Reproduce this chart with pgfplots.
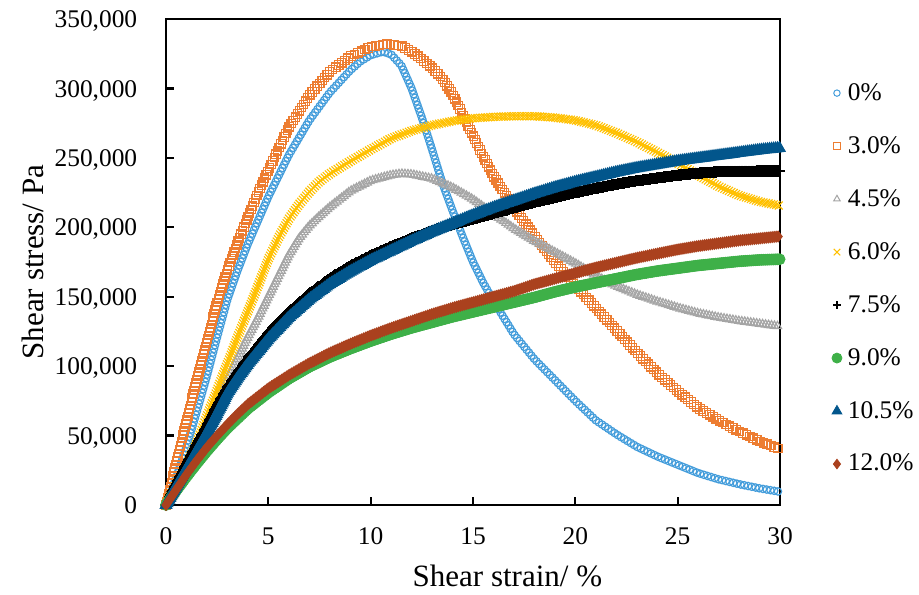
\documentclass[border=0pt]{standalone}
\usepackage{pgfplots}
\pgfplotsset{compat=1.18}
\usepackage{fontspec}
\setmainfont{Liberation Serif}
\usetikzlibrary{decorations.markings,plotmarks}
\definecolor{cA}{RGB}{68,157,219}
\definecolor{cB}{RGB}{237,125,49}
\definecolor{cC}{RGB}{165,165,165}
\definecolor{cD}{RGB}{255,192,0}
\definecolor{cE}{RGB}{0,0,0}
\definecolor{cF}{RGB}{62,176,72}
\definecolor{cG}{RGB}{2,86,140}
\definecolor{cH}{RGB}{170,65,30}
\pgfplotsset{
  mk/.style n args={5}{draw=none, sharp plot, forget plot,
    decoration={markings, mark=between positions 0 and 1 step #2 with {\pgftransformresetnontranslations\pgfsetplotmarksize{#3}\pgfsetstrokecolor{#4}\pgfsetfillcolor{#4}\pgfsetlinewidth{#5}\pgfuseplotmark{#1}}},
    postaction={decorate}},
}
\begin{document}
\begin{tikzpicture}
\path[use as bounding box] (-83pt,-44.5pt) rectangle (376.5pt,252.5pt);
\begin{axis}[
  at={(0,0)}, anchor=south west,
  scale only axis, width=307pt, height=243pt,
  xmin=0, xmax=30, ymin=0, ymax=350000,
  xtick={0,5,10,15,20,25,30}, ytick={0,50000,100000,150000,200000,250000,300000,350000},
  scaled y ticks=false,
  /pgf/number format/fixed,
  /pgf/number format/1000 sep={,},
  /pgf/number format/assume math mode=true,
  tick align=inside, tick pos=left, major tick length=4pt,
  axis line style={line width=1.15pt},
  every tick/.style={black, line width=1.1pt},
  ticklabel style={font=\fontsize{12.7}{15}\selectfont},
  xticklabel style={anchor=north, inner sep=0pt, yshift=-11pt},
  yticklabel style={anchor=base east, inner sep=0pt, xshift=-14.2pt, yshift=-4.3pt},
  xlabel={Shear strain/ \%}, ylabel={Shear stress/ Pa},
  every axis x label/.style={at={(axis description cs:0.556,0)}, anchor=north, inner sep=0pt, yshift=-30pt, font=\fontsize{15.5}{18}\selectfont},
  every axis y label/.style={at={([xshift=-61pt]axis description cs:0,0.5)}, rotate=90, anchor=base, inner sep=0pt, font=\fontsize{15.5}{18}\selectfont},
  clip=false,
  legend style={at={(1.0830,0.868)}, anchor=north west, draw=none, fill=none, inner sep=0pt, outer sep=0pt, font=\fontsize{12.7}{15}\selectfont, row sep=16.55pt, column sep=2.5pt, nodes={inner sep=0pt}},
  legend cell align=left,
  legend image code/.code={\path[draw=none,fill=none] (0pt,-3pt) rectangle (6pt,3pt); \draw[#1] plot coordinates {(3pt,0pt)};},
]
% 0%
\addplot[mk={o}{1.9pt}{1.85pt}{cA}{0.6pt}] coordinates {(0,0)(0.5,20000)(1,42000)(1.5,67000)(2,93000)(2.5,121000)(3,148000)(3.5,169000)(4,188000)(5,222000)(6,252000)(7,277000)(8,297000)(9,313000)(9.5,319500)(10,324000)(10.6,326500)(11,324500)(11.5,316500)(12,300000)(12.5,279000)(13,256000)(13.5,232000)(14,212000)(14.5,193000)(15,175000)(15.5,160000)(16,147000)(17,123000)(18,105000)(19,90000)(20,75000)(21,61000)(22,51000)(23,42000)(24,35000)(25,29000)(26,23000)(27,18500)(28,15000)(29,12000)(30,9500)};
% 3.0%
\addplot[mk={square}{1.9pt}{2.1pt}{cB}{0.6pt}] coordinates {(0,0)(0.5,30000)(1,60000)(1.5,90000)(2,118000)(2.5,146000)(3,169000)(3.5,189000)(4,207000)(4.5,225000)(5,241000)(6,272000)(7,295000)(8,312000)(9,323000)(10,330000)(10.8,332000)(11.5,330500)(12,326500)(12.5,321000)(13,315000)(13.5,307000)(14,296000)(14.5,281000)(15,266000)(15.5,251000)(16,237000)(17,214000)(18,194000)(19,175000)(20,158000)(21,142000)(22,126000)(23,110000)(24,95000)(25,82000)(26,70000)(27,61000)(28,53000)(29,46000)(30,40000)};
% 4.5%
\addplot[mk={triangle}{1.5pt}{2.4pt}{cC}{0.6pt}] coordinates {(0,0)(0.5,14000)(1,29000)(1.5,44000)(2,60000)(2.5,75000)(3,91000)(3.5,106000)(4,121000)(4.5,135000)(5,150000)(5.5,165000)(6,180000)(6.5,192000)(7,201000)(7.5,208000)(8,214500)(9,226000)(10,233500)(11,237500)(11.5,238500)(12,238000)(13,235000)(14,228500)(15,220000)(16,209500)(17,199000)(18,190000)(19,182000)(20,174000)(21,165000)(22,157500)(23,151500)(24,146500)(25,142000)(26,138000)(27,135000)(28,132500)(29,130500)(30,128500)};
% 6.0%
\addplot[mk={x}{1.3pt}{2.8pt}{cD}{0.55pt}] coordinates {(0,0)(0.5,15000)(1,29000)(1.5,45000)(2,64000)(2.5,83000)(3,102000)(3.5,121000)(4,139500)(4.5,158000)(5,177000)(5.5,192500)(6,206000)(6.5,216500)(7,225500)(7.5,233000)(8,238500)(9,247500)(10,256000)(11,264000)(12,269500)(13,273500)(14,276500)(15,278500)(16,279500)(17,280000)(18,280000)(19,279000)(20,277000)(21,273500)(22,268000)(23,261500)(24,254000)(25,246000)(26,237500)(27,229500)(28,223000)(29,218500)(30,215500)};
% 7.5%
\addplot[mk={+}{0.7pt}{2.8pt}{cE}{1.2pt}] coordinates {(0,0)(0.5,14500)(1,29000)(1.5,43000)(2,56500)(2.5,71000)(3,84000)(3.5,95000)(4,105000)(5,123500)(6,139000)(7,152000)(8,163000)(9,172000)(10,179500)(11,186000)(12,192000)(13,197500)(14,202000)(15,206000)(16,210000)(17,214000)(18,218000)(19,221500)(20,225000)(21,228000)(22,231000)(23,233500)(24,235500)(25,237500)(26,239000)(27,240000)(28,240300)(29,240500)(30,240600)};
% 9.0%
\addplot[mk={*}{1.0pt}{2.7pt}{cF}{0.5pt}] coordinates {(0,0)(0.5,10500)(1,20500)(1.5,30000)(2,39000)(2.5,47500)(3,55500)(3.5,62500)(4,69500)(5,81000)(6,91000)(7,99500)(8,106500)(9,112500)(10,118000)(11,123000)(12,127500)(13,131500)(14,135500)(15,139000)(16,142500)(17,146000)(18,149500)(19,153500)(20,157000)(21,160000)(22,163000)(23,166000)(24,168500)(25,170500)(26,172500)(27,174000)(28,175500)(29,176500)(30,177000)};
% 10.5%
\addplot[mk={triangle*}{1.0pt}{3.3pt}{cG}{0.5pt}] coordinates {(0,0)(0.5,13500)(1,26000)(1.5,39000)(2,52000)(2.5,66000)(3,80500)(3.5,91500)(4,101500)(5,119500)(6,135000)(7,148000)(8,159000)(9,168000)(10,176000)(11,183000)(12,190000)(13,196500)(14,202500)(15,208500)(16,214000)(17,219000)(18,224000)(19,228500)(20,232500)(21,236000)(22,239500)(23,242500)(24,245000)(25,247500)(26,249500)(27,251500)(28,253500)(29,255500)(30,257000)};
% 12.0%
\addplot[mk={diamond*}{1.0pt}{2.7pt}{cH}{0.5pt}] coordinates {(0,0)(0.5,11000)(1,22000)(1.5,32000)(2,41500)(2.5,50000)(3,58000)(3.5,65500)(4,72500)(5,84000)(6,93500)(7,102000)(8,109500)(9,116000)(10,122000)(11,127500)(12,132500)(13,137500)(14,142000)(15,146000)(16,150000)(17,154000)(18,159000)(19,163000)(20,167000)(21,171000)(22,174500)(23,178000)(24,181000)(25,184000)(26,186500)(27,188500)(28,190500)(29,192000)(30,193500)};
% legend
\addlegendimage{mark=o, mark size=1.6pt, color=cA, mark options={line width=0.5pt}}
\addlegendentry{0\%}
\addlegendimage{mark=square, mark size=1.8pt, color=cB, mark options={line width=0.5pt}}
\addlegendentry{3.0\%}
\addlegendimage{mark=triangle, mark size=1.9pt, color=cC, mark options={line width=0.5pt}}
\addlegendentry{4.5\%}
\addlegendimage{mark=x, mark size=2.3pt, color=cD, mark options={line width=0.5pt}}
\addlegendentry{6.0\%}
\addlegendimage{mark=+, mark size=1.8pt, color=cE, mark options={line width=0.9pt}}
\addlegendentry{7.5\%}
\addlegendimage{mark=*, mark size=2.5pt, color=cF}
\addlegendentry{9.0\%}
\addlegendimage{mark=triangle*, mark size=2.8pt, color=cG}
\addlegendentry{10.5\%}
\addlegendimage{mark=diamond*, mark size=2.4pt, color=cH}
\addlegendentry{12.0\%}
\end{axis}
\end{tikzpicture}
\end{document}
